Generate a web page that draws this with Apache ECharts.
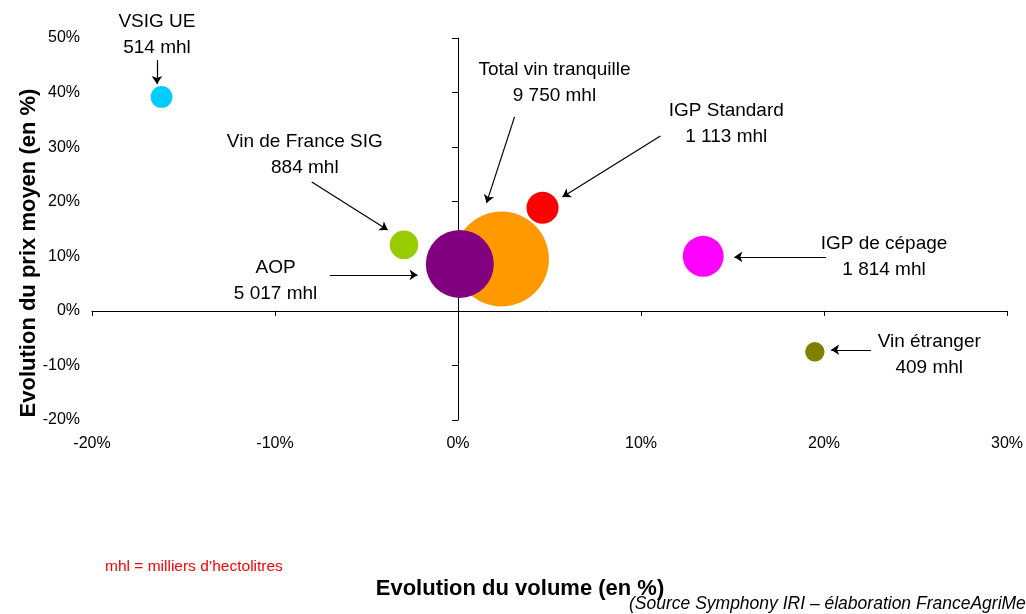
<!DOCTYPE html>
<html><head><meta charset="utf-8">
<script src="https://cdn.jsdelivr.net/npm/echarts@6/dist/echarts.min.js"></script>
<style>html,body{margin:0;padding:0;background:#fff}#c{width:1026px;height:614px}</style>
</head><body><div id="c"></div>
<script>
// ---- data ----
const categories = ['VSIG UE', 'Vin de France SIG', 'Total vin tranquille', 'AOP', 'IGP Standard', 'IGP de cépage', 'Vin étranger'];
const volumeChange = [-16.2, -2.95, 2.38, 0.1, 4.62, 13.4, 19.5];   // x, %
const priceChange  = [39.2, 12.1, 9.5, 8.6, 18.9, 10.0, -7.5];      // y, %
const volumeMhl    = [514, 884, 9750, 5017, 1113, 1814, 409];       // bubble size
const xMin = -20, xMax = 30, xStep = 10;
const yMin = -20, yMax = 50, yStep = 10;

// ---- styles / annotation layout (data units) ----
const bubbleColors = ['#00CCFF', '#99CC00', '#FF9900', '#800080', '#FF0000', '#FF00FF', '#808000'];
const labelX = [-16.45, -8.37, 5.27, -9.97, 14.66, 23.28, 25.75];
const labelY = [50.56, 28.55, 41.75, 5.48, 34.25, 9.88, -8.06];
const arrowFrom = [[-16.45, 45.97], [-7.99, 23.62], [3.09, 35.54], [-7.01, 6.58], [11.06, 32.05], [20.12, 9.88], [22.57, -7.13]];
const arrowTo   = [[-16.45, 41.57], [-3.84, 14.82], [1.56, 19.78], [-2.21, 6.58], [5.71, 20.87], [15.10, 9.88], [20.39, -7.13]];

const FONT = '"Liberation Sans", Arial, sans-serif';
const fmt = v => String(v).replace(/\B(?=(\d{3})+(?!\d))/g, ' ');

const bubbleData = categories.map((c, i) => ({
  name: c, value: [volumeChange[i], priceChange[i], volumeMhl[i]],
  itemStyle: { color: bubbleColors[i], opacity: 1 }
}));
const labelData = categories.map((c, i) => ({
  name: c, value: [labelX[i], labelY[i]], text: c + '\n' + fmt(volumeMhl[i]) + ' mhl'
}));

const chart = echarts.init(document.getElementById('c'), null, { renderer: 'canvas' });
const axisBase = { type: 'value', splitLine: { show: false } };
chart.setOption({
  animation: false,
  backgroundColor: '#fff',
  textStyle: { fontFamily: FONT },
  grid: { left: 92, right: 18, top: 38, bottom: 194, containLabel: false },
  xAxis: [
    Object.assign({}, axisBase, {
      min: xMin, max: xMax, interval: xStep, position: 'bottom',
      axisLine: { show: false, onZero: false }, axisTick: { show: false },
      axisLabel: { formatter: '{value}%', fontSize: 16, color: '#000', margin: 16, fontFamily: FONT }
    }),
    Object.assign({}, axisBase, {
      min: xMin, max: xMax, interval: xStep, position: 'bottom',
      axisLine: { show: true, onZero: true, onZeroAxisIndex: 0, lineStyle: { color: '#000', width: 1 } },
      axisTick: { show: true, inside: false, length: 5, lineStyle: { color: '#000' } },
      axisLabel: { show: false }
    })
  ],
  yAxis: [
    Object.assign({}, axisBase, {
      min: yMin, max: yMax, interval: yStep, position: 'left',
      axisLine: { show: false, onZero: false }, axisTick: { show: false },
      axisLabel: { formatter: '{value}%', fontSize: 16, color: '#000', margin: 12, fontFamily: FONT }
    }),
    Object.assign({}, axisBase, {
      min: yMin, max: yMax, interval: yStep, position: 'left',
      axisLine: { show: true, onZero: true, onZeroAxisIndex: 0, lineStyle: { color: '#000', width: 1 } },
      axisTick: { show: true, inside: false, length: 6, lineStyle: { color: '#000' } },
      axisLabel: { show: false }
    })
  ],
  series: [
    {
      type: 'scatter', name: 'bubbles', xAxisIndex: 0, yAxisIndex: 0,
      data: bubbleData,
      symbolSize: v => 2 * 0.48 * Math.sqrt(v[2]),
      itemStyle: { opacity: 1 },
      emphasis: { disabled: true }, silent: true, z: 3
    },
    {
      type: 'scatter', name: 'labels', xAxisIndex: 0, yAxisIndex: 0,
      data: labelData, symbolSize: 1, clip: false,
      itemStyle: { color: 'transparent', opacity: 1 },
      label: {
        show: true, position: 'inside', formatter: p => p.data.text, opacity: 1,
        fontSize: 19, lineHeight: 26, color: '#000', fontFamily: FONT, align: 'center',
        textBorderWidth: 0
      },
      emphasis: { disabled: true }, silent: true, z: 5,
      markLine: {
        silent: true, animation: false,
        symbol: ['none', 'arrow'], symbolSize: 8,
        lineStyle: { color: '#000', width: 1.2, type: 'solid', opacity: 1 },
        label: { show: false },
        emphasis: { disabled: true },
        data: arrowFrom.map((f, i) => [{ coord: f }, { coord: arrowTo[i] }])
      }
    }
  ],
  graphic: [
    { type: 'text', x: 29, y: 253, rotation: Math.PI / 2,
      style: { text: 'Evolution du prix moyen (en %)', font: 'bold 22px ' + FONT, fill: '#000',
               textAlign: 'center', textVerticalAlign: 'middle', align: 'center', verticalAlign: 'middle' } },
    { type: 'text', x: 520, y: 589,
      style: { text: 'Evolution du volume (en %)', font: 'bold 22px ' + FONT, fill: '#000',
               textAlign: 'center', textVerticalAlign: 'middle', align: 'center', verticalAlign: 'middle' } },
    { type: 'text', x: 105, y: 567,
      style: { text: 'mhl = milliers d\u2019hectolitres', font: '15.5px ' + FONT, fill: '#FF0000',
               textAlign: 'left', textVerticalAlign: 'middle', align: 'left', verticalAlign: 'middle' } },
    { type: 'text', x: 629, y: 604,
      style: { text: '(Source Symphony IRI \u2013 élaboration FranceAgriMer)', font: 'italic 17.5px ' + FONT, fill: '#000',
               textAlign: 'left', textVerticalAlign: 'middle', align: 'left', verticalAlign: 'middle' } }
  ]
});
</script>
</body></html>
